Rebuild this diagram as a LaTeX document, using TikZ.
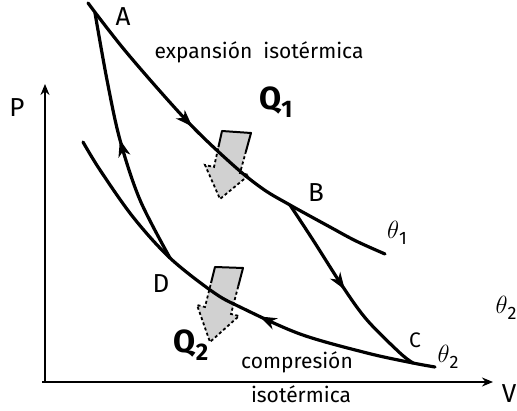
\documentclass[tikz,border=0pt]{standalone}
\usepackage{fontspec}
\setmainfont{Fira Sans}
\usetikzlibrary{decorations.markings,arrows.meta,calc}
\newcommand{\lowsub}[2]{\raisebox{-0.25em}{\fontsize{#1}{#1}\selectfont #2}}
\begin{document}
\begin{tikzpicture}[x=1pt,y=-1pt,
  curve/.style={line width=3.2pt, line cap=round, line join=round},
  pvaxis/.style={line width=2.8pt,-{Stealth[length=11pt,width=9pt]}},
  midarrow/.style={postaction={decorate,decoration={markings,mark=at position #1 with {\arrow{Stealth[length=17pt,width=12pt,inset=5pt]}}}}},
  midarrowrev/.style={postaction={decorate,decoration={markings,mark=at position #1 with {\arrowreversed{Stealth[length=17pt,width=12pt,inset=5pt]}}}}},
  heatfill/.style={fill=black!18, draw=none},
  heatsolid/.style={line width=2pt, line join=round},
  heatdash/.style={line width=1.8pt, dash pattern=on 3pt off 2.5pt},
  lbl/.style={font=\fontsize{26}{26}\selectfont, inner sep=0pt},
  lblsmall/.style={font=\fontsize{21}{21}\selectfont, inner sep=0pt},
  qlbl/.style={font=\fontsize{32}{32}\selectfont\bfseries, inner sep=0pt},
  txt/.style={font=\fontsize{21}{21}\selectfont, inner sep=0pt},
]
\useasboundingbox (0,0) rectangle (517,411);

% points of the cycle
\coordinate (A0) at (88,3);
\coordinate (A) at (95,13);
\coordinate (B) at (290,205);
\coordinate (C) at (413,363);
\coordinate (D) at (170,258);
\coordinate (T1) at (385,254);
\coordinate (L0) at (83,142);
\coordinate (T2) at (435,367);

% heat arrow Q1
\coordinate (h1a) at (222,131); \coordinate (h1b) at (251,133);
\coordinate (h1c) at (240,173); \coordinate (h1d) at (249,175);
\coordinate (h1e) at (220,199); \coordinate (h1f) at (205,165);
\coordinate (h1g) at (214,167);
\fill[heatfill] (h1a) -- (h1b) -- (h1c) -- (h1d) -- (h1e) -- (h1f) -- (h1g) -- cycle;
\draw[heatsolid] ($(h1g)!0.55!(h1a)$) -- (h1a) -- (h1b) -- ($(h1b)!0.45!(h1c)$);
\draw[heatdash] ($(h1b)!0.45!(h1c)$) -- (h1c) -- (h1d) -- (h1e) -- (h1f) -- (h1g) -- ($(h1g)!0.55!(h1a)$);

% heat arrow Q2
\coordinate (h2a) at (215,267); \coordinate (h2b) at (243,268);
\coordinate (h2c) at (231,314); \coordinate (h2d) at (239,316);
\coordinate (h2e) at (210,342); \coordinate (h2f) at (197,305);
\coordinate (h2g) at (205,307);
\fill[heatfill] (h2a) -- (h2b) -- (h2c) -- (h2d) -- (h2e) -- (h2f) -- (h2g) -- cycle;
\draw[heatsolid] ($(h2g)!0.6!(h2a)$) -- (h2a) -- (h2b) -- ($(h2b)!0.4!(h2c)$);
\draw[heatdash] ($(h2b)!0.4!(h2c)$) -- (h2c) -- (h2d) -- (h2e) -- (h2f) -- (h2g) -- ($(h2g)!0.6!(h2a)$);

% axes
\coordinate (O) at (45,382);
\coordinate (Ptop) at (45,84);
\coordinate (Vend) at (493,382);
\coordinate (Ostart) at (42,382);
\draw[pvaxis] (O) -- (Ptop);
\draw[pvaxis] (Ostart) -- (Vend);

% isotherm theta1 (A -> B)
\draw[curve,midarrow=0.41] plot[smooth,tension=0.55] coordinates {(A0) (127,53) (187,121) (233,165) (263,189) (B) (330,227) (356,241) (T1)};
% isotherm theta2 (C -> D)
\draw[curve,midarrowrev=0.58] plot[smooth,tension=0.55] coordinates {(L0) (100,170) (133,217) (D) (213,292) (240,307) (300,334) (367,353) (C) (T2)};
% adiabat D -> A
\draw[curve,midarrow=0.5] plot[smooth,tension=0.55] coordinates {(D) (140,200) (120,140) (107,80) (A)};
% adiabat B -> C
\draw[curve,midarrow=0.5] plot[smooth,tension=0.55] coordinates {(B) (313,240) (343,287) (367,320) (400,353) (C)};

% labels
\node[lbl] (lA) at (123,17) {A};
\node[lbl] (lB) at (316,193) {B};
\node[lblsmall] (lC) at (415,340) {C};
\node[lbl] (lD) at (161,284) {D};
\node[lbl] (lP) at (17,108) {P};
\node[lbl] (lV) at (509,394) {V};
\node[lbl] (t1) at (397,233) {$\theta$\lowsub{18}{1}};
\node[lbl] (t2a) at (448,357) {$\theta$\lowsub{18}{2}};
\node[lbl] (t2b) at (506,308) {$\theta$\lowsub{18}{2}};
\node[qlbl] (q1) at (276,102) {Q\lowsub{24}{1}};
\node[qlbl] (q2) at (191,345) {Q\lowsub{24}{2}};
\node[txt] (exp) at (259,52) {expansión\ \ isotérmica};
\node[txt] (comp) at (297,362) {compresión};
\node[txt] (iso) at (301,394) {isotérmica};
\end{tikzpicture}
\end{document}
